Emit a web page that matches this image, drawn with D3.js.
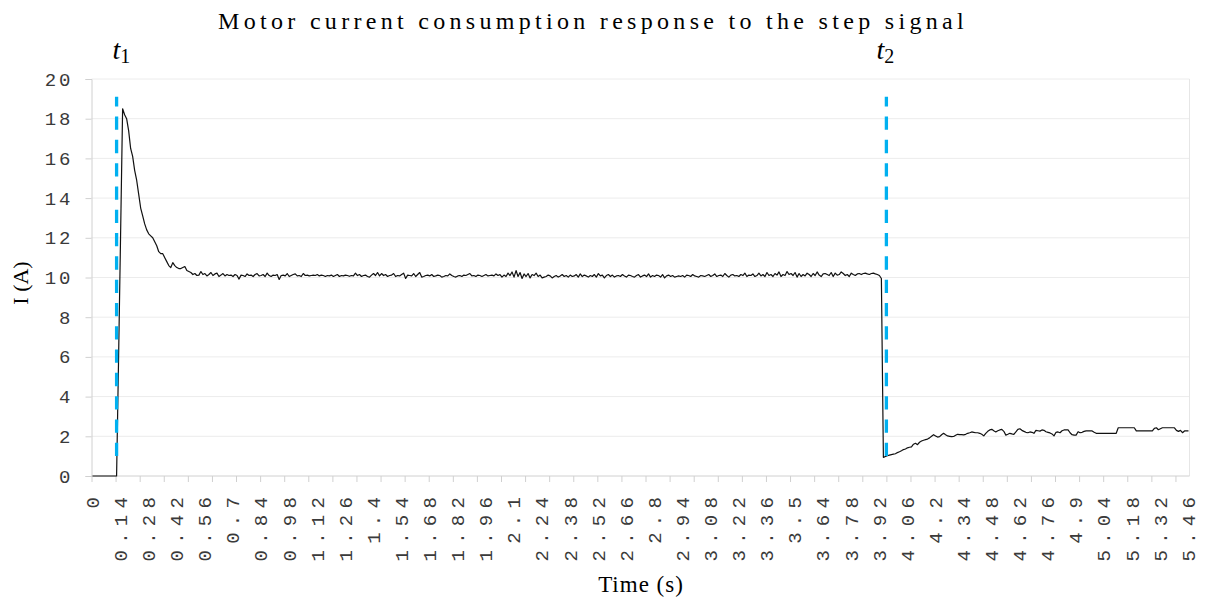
<!DOCTYPE html>
<html>
<head>
<meta charset="utf-8">
<script src="https://cdn.jsdelivr.net/npm/d3@7"></script>
<style>
  body { margin: 0; background: #fff; }
  svg { display: block; }
</style>
</head>
<body>
<svg id="chart" width="1208" height="601"></svg>
<script>
// Sampling interval of the logged current (s)
const sampleStep = 0.01;

// Current (A), one value per sample
const idle = [0, 0, 0, 0, 0, 0, 0, 0, 0, 0, 0, 0, 0];               // 0.00 – 0.12 s
const inrush = [                                                     // 0.13 – 0.48 s
  6.0, 12.2, 18.5, 18.2, 18.0, 17.4, 16.5, 16.1, 15.4, 14.9,
  14.2, 13.5, 13.1, 12.7, 12.4, 12.2, 12.1, 12.0, 11.8, 11.6,
  11.3, 11.2, 11.2, 11.0, 10.8, 10.6, 10.5, 10.75, 10.6, 10.5,
  10.45, 10.45, 10.5, 10.55, 10.35, 10.3
];
const running = [                                                    // 0.49 – 3.93 s
  10.25, 10.15, 10.2, 10.1, 10.12, 10.3, 10.15, 10.2, 10.08, 10.15, 10.25, 10.1, 10.18, 10.22, 10.05, 10.12, 10.2, 10.08, 10.15, 10.1,
  10.12, 10.05, 10.15, 10.1, 9.92, 10.12, 10.1, 10.05, 10.18, 10.1, 10.12, 10.05, 10.15, 10.2, 10.08, 10.1, 10.15, 10.05, 10.22, 10.1,
  10.05, 10.12, 10.1, 10.15, 9.9, 10.1, 10.12, 10.08, 10.2, 10.05, 10.1, 10.15, 10.18, 10.08, 10.1, 10.05, 10.2, 10.1, 10.12, 10.08,
  10.1, 10.12, 10.1, 10.15, 10.08, 10.12, 10.1, 10.05, 10.1, 10.08, 10.12, 10.05, 10.1, 10.15, 10.05, 10.1, 10.08, 10.12, 10.1, 10.06,
  10.1, 10.08, 10.22, 10.1, 10.15, 10.05, 10.1, 10.12, 10.05, 10.02, 10.12, 10.2, 10.1, 10.25, 10.08, 10.2, 10.1, 10.15, 10.05, 10.1,
  10.12, 10.2, 10.05, 10.1, 10.08, 10.15, 10.22, 9.95, 10.12, 10.1, 10.08, 10.2, 10.05, 10.15, 10.25, 10.02, 10.05, 10.1, 10.12, 10.08,
  10.15, 10.05, 10.08, 10.12, 10.1, 10.02, 10.05, 10.1, 10.08, 10.18, 10.1, 10.05, 10.02, 10.08, 10.1, 10.05, 10.12, 10.1, 10.15, 10.2,
  10.08, 10.1, 10.05, 10.12, 10.1, 10.05, 10.1, 10.15, 10.08, 10.1, 10.12, 10.08, 10.18, 10.1, 10.15, 10.02, 10.12, 10.05, 10.22, 10.1,
  10.28, 10.02, 10.35, 10.05, 10.25, 9.95, 10.18, 10.05, 10.2, 9.98, 10.15, 10.1, 10.22, 10.05, 10.12, 9.98, 10.02, 10.05, 10.12, 10.08,
  9.98, 10.05, 10.1, 10.02, 10.08, 10.15, 10.05, 10.1, 10.02, 10.12, 10.05, 10.08, 10.15, 10.02, 10.18, 10.05, 10.12, 10.08, 10.02, 10.1,
  10.05, 10.15, 10.02, 10.2, 10.08, 10.12, 9.98, 10.1, 10.15, 10.05, 10.12, 10.02, 10.08, 10.1, 10.05, 10.15, 10.08, 10.02, 10.12, 10.1,
  10.05, 10.02, 10.1, 10.15, 10.02, 10.08, 10.12, 10.05, 10.18, 10.02, 10.1, 10.05, 10.12, 10.1, 10.02, 10.15, 9.98, 10.08, 10.12, 10.05,
  10.1, 10.02, 10.05, 10.08, 10.05, 10.1, 10.02, 10.12, 10.1, 10.05, 10.15, 10.08, 10.05, 10.02, 10.1, 10.08, 10.05, 10.1, 10.15, 10.05,
  10.1, 10.18, 10.05, 10.1, 10.12, 10.05, 10.2, 10.1, 10.02, 10.12, 10.15, 10.08, 10.1, 10.05, 10.15, 10.1, 10.22, 10.05, 10.12, 10.1,
  10.18, 10.05, 10.1, 10.22, 10.08, 10.15, 10.05, 10.25, 10.1, 10.15, 10.05, 10.2, 10.12, 10.28, 10.05, 10.15, 10.1, 10.3, 10.15, 10.2,
  10.1, 10.25, 10.02, 10.2, 10.05, 10.15, 10.08, 10.22, 10.15, 10.05, 10.2, 10.1, 10.28, 10.12, 10.05, 10.18, 10.2, 10.15, 10.1, 10.25,
  10.05, 10.22, 10.12, 10.15, 10.28, 10.2, 10.1, 10.15, 10.05, 10.22, 10.15, 10.1, 10.18, 10.2, 10.15, 10.2, 10.22, 10.18, 10.15, 10.2,
  10.22, 10.18, 10.15, 10.1, 9.95
];
const reduced = [                                                    // 3.94 – 5.46 s
  0.94, 0.98, 1.02, 1.05, 1.08, 1.1, 1.12, 1.18, 1.22, 1.27, 1.33, 1.36, 1.42, 1.45, 1.47, 1.6, 1.65, 1.58, 1.7, 1.76,
  1.8, 1.83, 1.86, 1.92, 2.0, 2.08, 2.02, 1.96, 1.98, 2.08, 2.15, 2.08, 2.02, 2.0, 1.98, 1.99, 2.05, 2.1, 2.08, 2.08,
  2.07, 2.1, 2.15, 2.18, 2.22, 2.2, 2.18, 2.18, 2.15, 2.1, 2.02, 2.15, 2.25, 2.32, 2.35, 2.28, 2.22, 2.28, 2.32, 2.35,
  2.25, 2.06, 2.1, 2.15, 2.12, 2.1, 2.22, 2.35, 2.38, 2.3, 2.25, 2.2, 2.18, 2.22, 2.2, 2.15, 2.3, 2.28, 2.26, 2.32,
  2.3, 2.23, 2.2, 2.17, 2.12, 2.02, 2.2, 2.22, 2.18, 2.28, 2.32, 2.32, 2.32, 2.18, 2.08, 2.06, 2.06, 2.23, 2.18, 2.2,
  2.25, 2.27, 2.27, 2.27, 2.27, 2.2, 2.15,
  2.15, 2.15, 2.15, 2.15, 2.15, 2.15, 2.15, 2.15, 2.15, 2.15,
  2.43, 2.43, 2.43, 2.43, 2.43, 2.43, 2.43, 2.43, 2.43,
  2.27, 2.27, 2.27, 2.27, 2.27, 2.27, 2.27, 2.27, 2.27,
  2.4, 2.43, 2.33, 2.38,
  2.43, 2.43, 2.43, 2.43, 2.43, 2.43, 2.43,
  2.3, 2.25, 2.3, 2.18, 2.27, 2.27, 2.27
];

// Category labels shown on the time axis (every 14th sample)
const timeLabels = [
  "0", "0.14", "0.28", "0.42", "0.56", "0.7", "0.84", "0.98", "1.12", "1.26",
  "1.4", "1.54", "1.68", "1.82", "1.96", "2.1", "2.24", "2.38", "2.52", "2.66",
  "2.8", "2.94", "3.08", "3.22", "3.36", "3.5", "3.64", "3.78", "3.92", "4.06",
  "4.2", "4.34", "4.48", "4.62", "4.76", "4.9", "5.04", "5.18", "5.32", "5.46"
];
const currentTicks = [0, 2, 4, 6, 8, 10, 12, 14, 16, 18, 20];

// Step-signal instants (s)
const stepMarkers = [
  { name: "1", time: 0.12 },
  { name: "2", time: 3.955 }
];

const current = [...idle, ...inrush, ...running, ...reduced];
const samples = current.map((v, i) => ({ t: +(i * sampleStep).toFixed(2), v }));

const svg = d3.select("#chart");
const plotLeft = 91.5, plotRight = 1189.5, plotTop = 79, plotBottom = 476;

// Each sample occupies one category slot; slot centres sit at the sample time
const half = sampleStep / 2;
const tMax = samples[samples.length - 1].t;
const x = d3.scaleLinear().domain([-half, tMax + half]).range([plotLeft, plotRight]);
const y = d3.scaleLinear().domain([0, 20]).range([plotBottom, plotTop]);

const monoFont = "'Liberation Mono', 'DejaVu Sans Mono', monospace";
const serifFont = "'Liberation Serif', 'Times New Roman', serif";

// Horizontal gridlines
svg.append("g")
  .selectAll("line")
  .data(currentTicks.filter(d => d > 0))
  .join("line")
  .attr("x1", plotLeft).attr("x2", plotRight)
  .attr("y1", d => y(d)).attr("y2", d => y(d))
  .attr("stroke", "#ececec").attr("stroke-width", 1);

// Right edge of the plot area
svg.append("line")
  .attr("x1", plotRight).attr("x2", plotRight).attr("y1", plotTop).attr("y2", plotBottom)
  .attr("stroke", "#e6e6e6");

// Y axis
const yAxis = svg.append("g")
  .attr("transform", `translate(${plotLeft},0)`)
  .call(d3.axisLeft(y).tickValues(currentTicks).tickSize(6).tickPadding(12));
yAxis.select(".domain").attr("stroke", "#d0d0d0");
yAxis.selectAll(".tick line").attr("stroke", "#d0d0d0");
yAxis.selectAll(".tick text")
  .attr("font-family", monoFont).attr("font-size", 19)
  .attr("letter-spacing", 3).attr("fill", "#3a3a3a");

// X axis: tick marks at slot boundaries every 12 samples
const boundaryTicks = d3.range(0, samples.length, 12).map(i => samples[i].t - half);
const xAxis = svg.append("g")
  .attr("transform", `translate(0,${plotBottom})`)
  .call(d3.axisBottom(x).tickValues(boundaryTicks).tickSize(6).tickFormat(""));
xAxis.select(".domain").attr("stroke", "#d0d0d0").attr("d", `M${plotLeft},0H${plotRight}`);
xAxis.selectAll(".tick line").attr("stroke", "#d0d0d0");

// X tick labels, rotated, top-aligned under the axis
svg.append("g")
  .selectAll("text")
  .data(timeLabels)
  .join("text")
  .attr("transform", d => `translate(${x(+d)},491) rotate(-90)`)
  .attr("dy", "0.33em")
  .attr("text-anchor", "end")
  .attr("font-family", monoFont).attr("font-size", 19)
  .attr("letter-spacing", 6.2).attr("fill", "#3a3a3a")
  .text(d => d);

// Current trace
const line = d3.line().x(d => x(d.t)).y(d => y(d.v));
svg.append("path")
  .datum(samples)
  .attr("d", line)
  .attr("fill", "none")
  .attr("stroke", "#111")
  .attr("stroke-width", 1.2)
  .attr("stroke-linejoin", "round");

// Step markers
const markers = svg.append("g");
markers.selectAll("line")
  .data(stepMarkers)
  .join("line")
  .attr("x1", d => x(d.time)).attr("x2", d => x(d.time))
  .attr("y1", y(19.1)).attr("y2", y(0.8))
  .attr("stroke", "#00b0f0").attr("stroke-width", 3.3)
  .attr("stroke-dasharray", "13.3 10")
  .attr("stroke-dashoffset", 3.6);

// Marker captions sit just left of their dashed lines
const captionShift = { "1": -4, "2": -10 };
const markerLabels = markers.selectAll("text")
  .data(stepMarkers)
  .join("text")
  .attr("x", d => x(d.time) + captionShift[d.name])
  .attr("y", 59)
  .attr("font-family", serifFont).attr("fill", "#000");
markerLabels.append("tspan")
  .attr("font-style", "italic").attr("font-size", 28).text("t");
markerLabels.append("tspan")
  .attr("font-size", 20).attr("dy", 4).text(d => d.name);

// Title and axis titles
svg.append("text")
  .attr("x", 593).attr("y", 29)
  .attr("text-anchor", "middle")
  .attr("font-family", serifFont).attr("font-size", 24)
  .attr("letter-spacing", 4.3)
  .attr("fill", "#000")
  .text("Motor current consumption response to the step signal");

svg.append("text")
  .attr("transform", "translate(28,283) rotate(-90)")
  .attr("text-anchor", "middle")
  .attr("font-family", serifFont).attr("font-size", 22)
  .attr("fill", "#000")
  .text("I (A)");

svg.append("text")
  .attr("x", 641).attr("y", 592)
  .attr("text-anchor", "middle")
  .attr("font-family", serifFont).attr("font-size", 23)
  .attr("letter-spacing", 1)
  .attr("fill", "#000")
  .text("Time (s)");
</script>
</body>
</html>
